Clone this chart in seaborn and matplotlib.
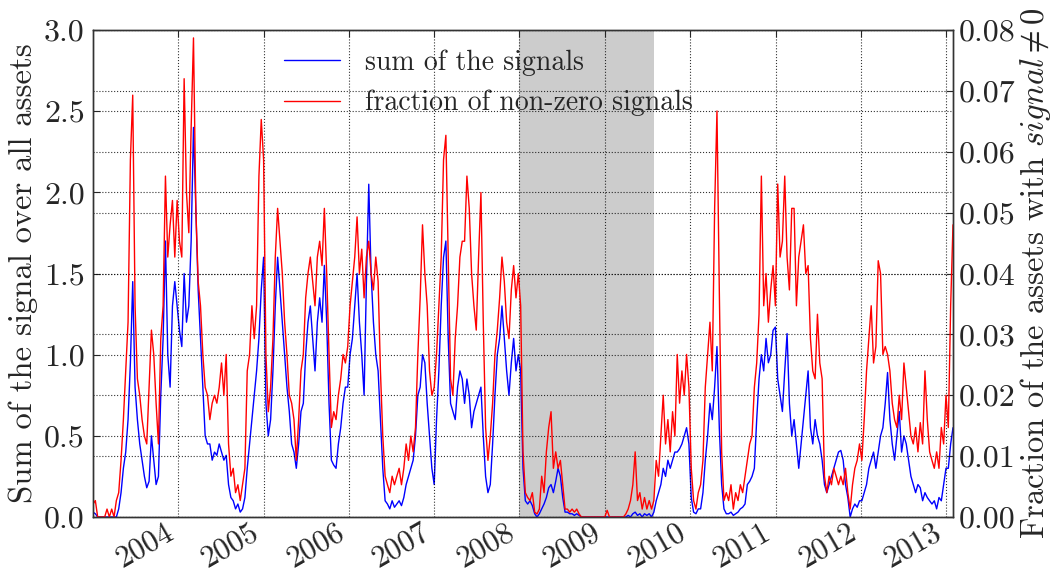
import numpy as np
import pandas as pd
import matplotlib
matplotlib.use('Agg')
import matplotlib.pyplot as plt
import matplotlib.dates as mdates
import seaborn as sns

# sum of the signal over all assets (left axis), one value every 10 days from 2003-01-02
signal_sum = [
    0.03, 0.02, 0, 0, 0, 0, 0, 0, 0, 0,
    0.0, 0.05, 0.15, 0.3, 0.4, 0.6, 0.95, 1.45, 0.8, 0.6,
    0.45, 0.35, 0.25, 0.18, 0.22, 0.5, 0.35, 0.2, 0.25, 0.75,
    1.1, 1.7, 1.0, 0.8, 1.3, 1.45, 1.3, 1.15, 1.05, 1.5,
    1.2, 1.3, 1.7, 2.4, 1.9, 1.4, 1.1, 0.8, 0.5, 0.45,
    0.45, 0.35, 0.4, 0.38, 0.45, 0.4, 0.35, 0.38, 0.2, 0.12,
    0.1, 0.05, 0.08, 0.03, 0.05, 0.12, 0.3, 0.45, 0.6, 0.75,
    0.9, 1.1, 1.4, 1.6, 0.7, 0.5, 0.6, 0.9, 1.3, 1.6,
    1.4, 1.2, 1.0, 0.8, 0.65, 0.45, 0.4, 0.3, 0.45, 0.65,
    0.7, 1.0, 1.2, 1.3, 1.1, 0.9, 1.2, 1.35, 1.2, 1.55,
    1.2, 0.7, 0.35, 0.32, 0.3, 0.45, 0.55, 0.7, 0.8, 0.8,
    1.0, 1.1, 1.3, 1.5, 1.2, 1.0, 0.75, 1.45, 2.05, 1.5,
    1.2, 1.0, 0.9, 0.6, 0.3, 0.1, 0.08, 0.05, 0.1, 0.06,
    0.08, 0.1, 0.07, 0.12, 0.2, 0.25, 0.3, 0.35, 0.5, 0.75,
    0.8, 1.0, 0.95, 0.7, 0.5, 0.3, 0.2, 0.6, 0.9, 1.3,
    1.6, 1.7, 1.1, 0.7, 0.65, 0.6, 0.8, 0.9, 0.85, 0.7,
    0.85, 0.75, 0.55, 0.65, 0.7, 0.75, 0.8, 0.5, 0.25, 0.15,
    0.2, 0.45, 0.75, 1.0, 1.1, 1.3, 1.1, 0.9, 0.75, 0.95,
    1.1, 0.9, 1.0, 0.9, 0.3, 0.1, 0.08, 0.1, 0.07, 0.02,
    0.0, 0.02, 0.05, 0.08, 0.12, 0.18, 0.2, 0.15, 0.22, 0.3,
    0.25, 0.12, 0.03, 0.03, 0.02, 0.02, 0.01, 0.02, 0.01, 0,
    0, 0, 0, 0, 0, 0, 0, 0, 0, 0,
    0, 0, 0, 0, 0, 0, 0, 0, 0, 0.01,
    0, 0.02, 0.03, 0.01, 0.02, 0, 0.02, 0.01, 0.02, 0,
    0.03, 0.1, 0.15, 0.2, 0.3, 0.25, 0.35, 0.3, 0.35, 0.4,
    0.4, 0.42, 0.45, 0.5, 0.55, 0.45, 0.12, 0.03, 0.02, 0.05,
    0.05, 0.15, 0.35, 0.5, 0.7, 0.6, 0.8, 1.05, 0.55, 0.2,
    0.05, 0.02, 0.02, 0.03, 0.01, 0.02, 0.03, 0.05, 0.06, 0.08,
    0.2, 0.22, 0.25, 0.3, 0.6, 0.85, 1.0, 0.9, 1.1, 0.95,
    1.0, 1.15, 1.17, 0.85, 0.75, 0.65, 0.9, 1.13, 0.7, 0.5,
    0.6, 0.45, 0.3, 0.45, 0.6, 0.75, 0.9, 0.55, 0.45, 0.6,
    0.5, 0.45, 0.35, 0.2, 0.15, 0.2, 0.25, 0.3, 0.35, 0.4,
    0.41, 0.35, 0.2, 0.12, 0.0, 0.05, 0.08, 0.06, 0.1, 0.1,
    0.15, 0.2, 0.3, 0.35, 0.4, 0.3, 0.4, 0.5, 0.55, 0.7,
    0.89, 0.6, 0.45, 0.35, 0.5, 0.65, 0.4, 0.5, 0.45, 0.35,
    0.25, 0.2, 0.15, 0.2, 0.18, 0.1, 0.15, 0.12, 0.1, 0.08,
    0.1, 0.05, 0.12, 0.1, 0.2, 0.3, 0.3, 0.45, 0.55,
]

# fraction of assets with a non-zero signal (right axis), in percent, same dates
nonzero_pct = [
    0.21, 0.27, 0, 0, 0, 0, 0.13, 0, 0.13, 0,
    0.27, 0.4, 0.93, 1.6, 2.4, 3.2, 5.87, 6.93, 3.47, 2.27,
    2.0, 1.6, 1.33, 1.2, 2.13, 3.07, 2.67, 1.87, 1.2, 2.93,
    3.47, 5.6, 4.27, 4.8, 5.2, 4.27, 5.2, 4.53, 4.27, 7.2,
    5.33, 4.67, 6.4, 7.87, 5.07, 3.87, 3.47, 2.67, 2.13, 2.0,
    1.6, 1.87, 2.0, 1.87, 2.13, 2.53, 2.0, 2.67, 1.2, 0.67,
    0.8, 0.4, 0.53, 0.27, 0.53, 0.8, 2.4, 2.67, 3.47, 2.93,
    3.47, 5.6, 6.53, 5.87, 2.67, 1.73, 2.13, 2.93, 4.27, 5.07,
    4.53, 4.0, 3.2, 2.67, 2.0, 1.87, 1.6, 0.93, 1.6, 2.4,
    2.67, 3.6, 4.0, 4.27, 3.87, 3.47, 4.27, 4.53, 4.13, 5.07,
    4.0, 2.67, 1.47, 1.73, 1.6, 2.0, 2.27, 2.67, 2.53, 2.8,
    3.47, 3.87, 4.27, 4.93, 4.0, 4.4, 3.6, 4.27, 4.53, 4.0,
    3.73, 4.27, 3.87, 2.4, 1.33, 0.67, 0.53, 0.4, 0.67, 0.53,
    0.67, 0.8, 0.53, 0.8, 1.2, 0.93, 1.33, 1.07, 1.47, 2.67,
    3.6, 4.8, 4.0, 3.47, 2.4, 2.0, 2.13, 2.67, 3.47, 4.27,
    5.87, 6.27, 4.27, 2.27, 2.0, 2.93, 3.47, 4.27, 4.53, 4.53,
    5.6, 5.07, 4.0, 3.47, 3.07, 4.27, 5.33, 3.2, 1.47, 0.93,
    1.33, 1.87, 2.67, 3.07, 3.6, 4.27, 3.87, 3.2, 2.93, 3.73,
    4.13, 3.6, 4.0, 3.47, 1.07, 0.4, 0.32, 0.27, 0.4, 0.08,
    0.05, 0.13, 0.67, 0.4, 1.07, 1.47, 1.73, 0.8, 1.07, 0.8,
    0.93, 0.53, 0.13, 0.13, 0.08, 0.13, 0.08, 0.13, 0.05, 0,
    0, 0, 0, 0, 0, 0, 0, 0, 0, 0,
    0.11, 0, 0, 0, 0, 0, 0, 0, 0.05, 0.13,
    0.27, 0.53, 1.07, 0.27, 0.4, 0.13, 0.32, 0.13, 0.27, 0.13,
    0.27, 0.93, 0.67, 1.33, 2.0, 1.2, 1.6, 1.07, 1.73, 1.33,
    2.67, 1.87, 2.4, 2.0, 2.67, 2.13, 0.8, 0.27, 0.13, 0.4,
    0.53, 0.93, 2.13, 2.67, 3.2, 2.4, 5.07, 6.67, 3.73, 1.07,
    0.27, 0.4, 0.27, 0.53, 0.13, 0.4, 0.27, 0.53, 0.4, 0.67,
    0.93, 1.2, 1.33, 2.13, 2.53, 3.33, 5.6, 3.47, 4.0, 3.2,
    3.73, 4.13, 3.47, 5.47, 4.27, 4.53, 5.6, 4.27, 3.73, 5.07,
    5.07, 3.47, 4.27, 4.53, 4.8, 4.0, 4.13, 2.93, 2.4, 2.27,
    3.33, 2.53, 2.27, 0.67, 0.4, 0.67, 0.53, 0.8, 0.67, 0.53,
    0.67, 0.53, 0.8, 0.4, 0.13, 0.53, 0.8, 0.93, 1.2, 0.93,
    1.6, 2.4, 2.93, 3.47, 2.53, 2.8, 4.21, 4.0, 2.67, 2.8,
    2.67, 2.4, 1.87, 1.6, 1.47, 2.0, 1.6, 2.53, 2.13, 1.73,
    1.33, 1.2, 1.47, 1.07, 1.55, 1.2, 2.4, 1.6, 1.07, 0.93,
    0.8, 1.07, 0.8, 1.47, 1.2, 2.0, 1.47, 3.47, 4.8,
]

crisis_start = '2008-01-01'
crisis_end = '2009-07-31'

dates = pd.date_range('2003-01-02', periods=len(signal_sum), freq='10D')
frac_nonzero = np.array(nonzero_pct) / 100.0

sns.set_style('white')
plt.rcParams['font.family'] = 'serif'
plt.rcParams['font.serif'] = ['cmr10']
plt.rcParams['mathtext.fontset'] = 'cm'
plt.rcParams['axes.formatter.use_mathtext'] = True
plt.rcParams['axes.unicode_minus'] = False

fig = plt.figure(figsize=(10.56, 5.74), dpi=100)
ax1 = fig.add_axes([93 / 1056, 57 / 574, 860 / 1056, 487 / 574])
ax2 = ax1.twinx()

# recession band
ax1.axvspan(pd.Timestamp(crisis_start), pd.Timestamp(crisis_end),
            color='#cccccc', lw=0, zorder=0)

sns.lineplot(x=dates, y=signal_sum, ax=ax1, color='b', lw=1, legend=False)
sns.lineplot(x=dates, y=frac_nonzero, ax=ax2, color='r', lw=1, legend=False)

ax1.set_xlim(dates[0], dates[-1])
ax1.set_ylim(0, 3.0)
ax2.set_ylim(0, 0.08)
ax1.set_yticks(np.arange(0, 3.01, 0.5))
ax2.set_yticks(np.arange(0, 0.0801, 0.01))
ax1.yaxis.set_major_formatter(plt.FormatStrFormatter('%.1f'))
ax2.yaxis.set_major_formatter(plt.FormatStrFormatter('%.2f'))

ax1.xaxis.set_major_locator(mdates.YearLocator())
ax1.xaxis.set_major_formatter(mdates.DateFormatter('%Y'))
for lab in ax1.get_xticklabels():
    lab.set_rotation(30)
    lab.set_ha('right')

# dotted grid from both axes
grid_kw = dict(color='k', ls=':', lw=0.8, alpha=0.8)
ax1.grid(True, **grid_kw)
ax2.grid(True, axis='y', **grid_kw)
ax2.grid(False, axis='x')
ax1.set_axisbelow(False)

ax1.tick_params(axis='y', direction='in', labelsize=23, length=5, pad=6)
ax1.tick_params(axis='x', direction='in', labelsize=22, length=5,
                top=True, pad=1)
ax2.tick_params(axis='y', direction='in', labelsize=23, length=5, pad=4)
for ax in (ax1, ax2):
    for sp in ax.spines.values():
        sp.set_color('0.2')
        sp.set_linewidth(1.0)

ax1.set_xlabel('')
ax1.set_ylabel('Sum of the signal over all assets', size=23.5, labelpad=4)
ax2.set_ylabel(r'Fraction of the assets with $signal \neq 0$', size=23.5, labelpad=2)

handles = [ax1.get_lines()[0], ax2.get_lines()[0]]
ax2.legend(handles, ['sum of the signals', 'fraction of non-zero signals'],
           loc='upper left', bbox_to_anchor=(0.20, 1.0), frameon=False,
           fontsize=20, handlelength=2.0, handletextpad=0.9,
           labelspacing=0.5, borderaxespad=0.3)

fig.savefig('out.png', dpi=100)
